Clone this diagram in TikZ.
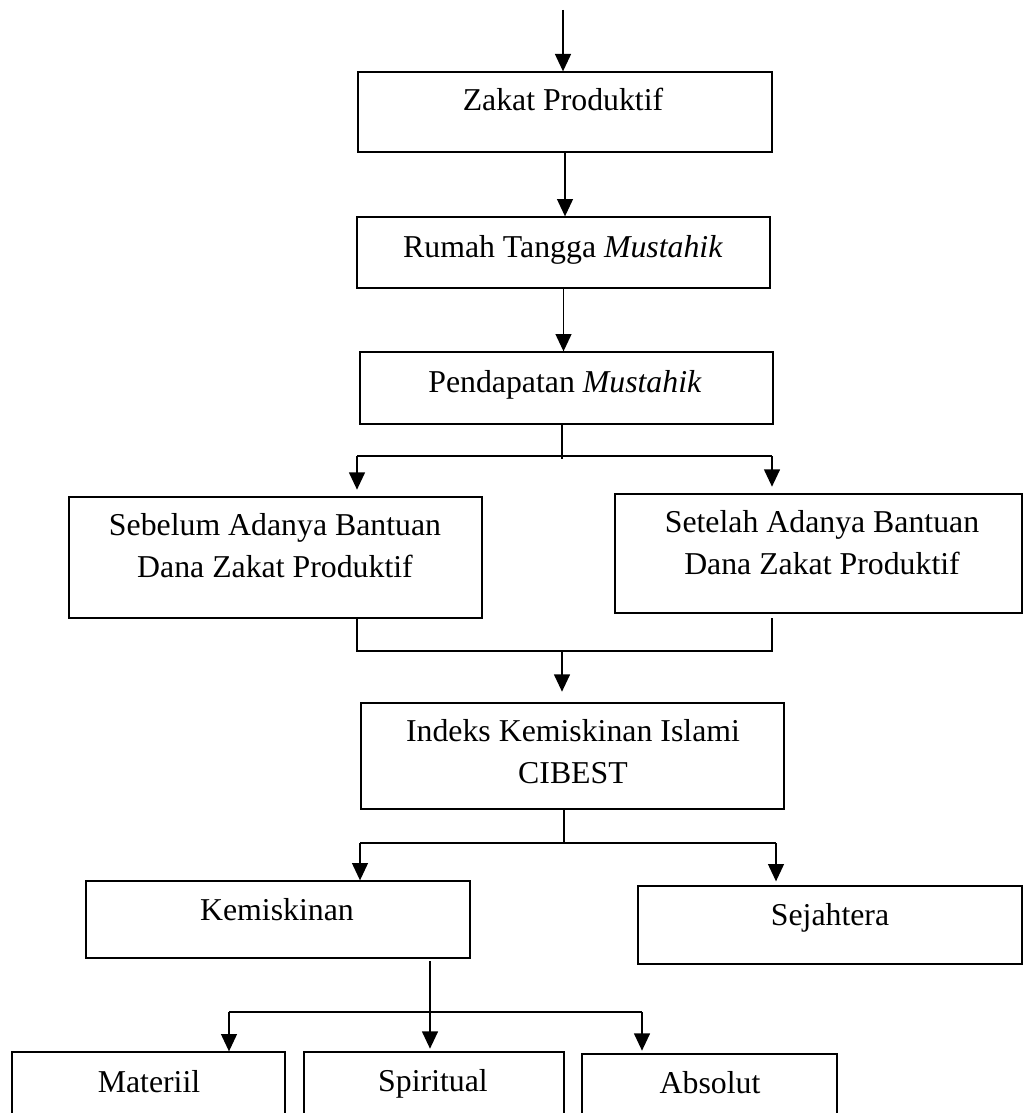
\documentclass[tikz,border=0pt]{standalone}
\usepackage{fontspec}
\setmainfont{Liberation Serif}
\usetikzlibrary{arrows.meta,fit}
\begin{document}
\begin{tikzpicture}[x=0.75pt,y=-0.75pt,
  box/.style={draw, line width=1pt, inner sep=0pt},
  txt/.style={anchor=base, inner sep=0pt, font=\fontsize{23.85}{31.5}\selectfont, align=center},
  line/.style={line width=1pt},
  arr/.style={line width=1pt, -{Triangle[width=12pt,length=13pt]}}]
\useasboundingbox (0,0) rectangle (1024,1113);
\clip (0,0) rectangle (1024,1113);
% boxes
\node[box, fit={(358,72) (772,152)}] (zp) {};
\node[box, fit={(357,217) (770,288)}] (rt) {};
\node[box, fit={(360,352) (773,424)}] (pd) {};
\node[box, fit={(69,497) (482,618)}] (seb) {};
\node[box, fit={(615,494) (1022,613)}] (set) {};
\node[box, fit={(361,703) (784,809)}] (ik) {};
\node[box, fit={(86,881) (470,958)}] (km) {};
\node[box, fit={(638,886) (1022,964)}] (sj) {};
\node[box, fit={(12,1052) (285,1140)}] (mat) {};
\node[box, fit={(304,1052) (564,1140)}] (spi) {};
\node[box, fit={(582,1054) (837,1140)}] (abs) {};
% texts (multi-line nodes: base = last line's baseline)
\node[txt] (tzp) at (563,110) {Zakat Produktif};
\node[txt] (trt) at (563,257) {Rumah Tangga \textit{Mustahik}};
\node[txt] (tpd) at (565,392) {Pendapatan \textit{Mustahik}};
\node[txt] (tseb) at (275,577) {Sebelum Adanya Bantuan\\Dana Zakat Produktif};
\node[txt] (tset) at (822,574) {Setelah Adanya Bantuan\\Dana Zakat Produktif};
\node[txt] (tik) at (573,783) {Indeks Kemiskinan Islami\\CIBEST};
\node[txt] (tkm) at (277,920) {Kemiskinan};
\node[txt] (tsj) at (830,925) {Sejahtera};
\node[txt] (tmat) at (149,1092) {Materiil};
\node[txt] (tspi) at (433,1091) {Spiritual};
\node[txt] (tabs) at (710,1093) {Absolut};
% connectors
\coordinate (top) at (563,10);
\draw[arr] (top) -- (top |- zp.north);
\draw[arr] (zp.south) -- (zp.south |- rt.north);
\draw[arr] (rt.south) -- (rt.south |- pd.north);
% split 1
\coordinate (b1) at (562,456);
\coordinate (b1l) at (357,456);
\coordinate (b1r) at (772,456);
\draw[line] (pd.south -| b1) -- (b1) -- ++(0,3);
\draw[line] (b1l) -- (b1r);
\draw[arr, shorten >=5pt] (b1l) -- (b1l |- seb.north);
\draw[arr, shorten >=5pt] (b1r) -- (b1r |- set.north);
% merge
\coordinate (m1l) at (357,651);
\coordinate (m1r) at (772,651);
\coordinate (m1) at (562,651);
\draw[line] (m1l |- seb.south) -- (m1l) -- (m1r) -- ([yshift=-3pt]m1r |- set.south);
\draw[arr, shorten >=8pt] (m1) -- (m1 |- ik.north);
% split 2
\coordinate (b2) at (564,843);
\coordinate (b2l) at (360,843);
\coordinate (b2r) at (776,843);
\draw[line] (ik.south -| b2) -- (b2);
\draw[line] (b2l) -- (b2r);
\draw[arr] (b2l) -- (b2l |- km.north);
\draw[arr, shorten >=3pt] (b2r) -- (b2r |- sj.north);
% split 3
\coordinate (b3) at (430,1012);
\coordinate (b3l) at (229,1012);
\coordinate (b3r) at (642,1012);
\draw[line] (b3l) -- (b3r);
\draw[arr, shorten >=2pt] ([yshift=-2pt]km.south -| b3) -- (b3 |- spi.north);
\draw[arr] (b3l) -- (b3l |- mat.north);
\draw[arr, shorten >=2pt] (b3r) -- (b3r |- abs.north);
\end{tikzpicture}
\end{document}
